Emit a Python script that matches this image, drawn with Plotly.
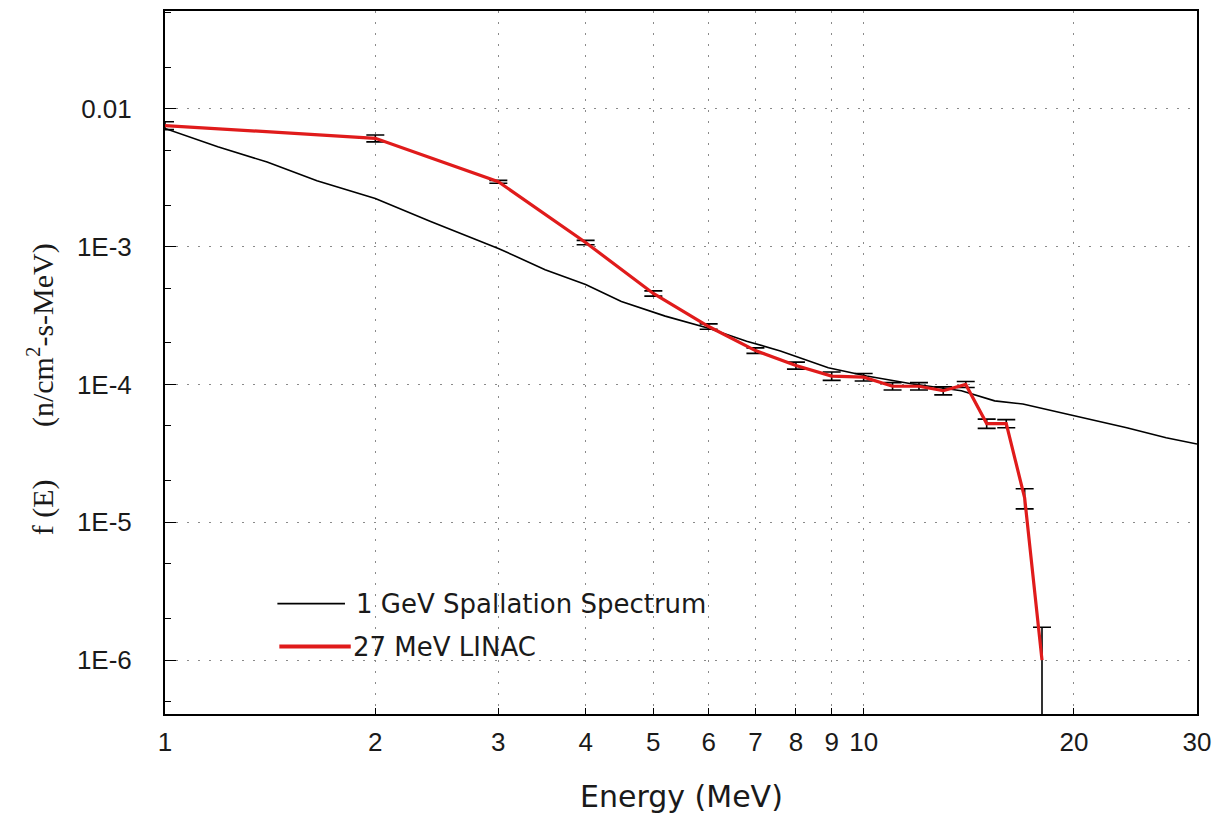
import math
import plotly.graph_objects as go

# ---- data ----
E_spall = [1.0, 1.19, 1.4, 1.65, 2.0, 2.4, 3.0, 3.5, 4.0, 4.5, 5.2, 6.0, 6.8, 7.6,
           8.9, 10.1, 11.7, 13.8, 15.4, 16.9, 19.8, 23.8, 27.1, 30.0]
f_spall = [7.2e-3, 5.3e-3, 4.1e-3, 3.0e-3, 2.23e-3, 1.52e-3, 9.7e-4, 6.8e-4, 5.3e-4,
           4.0e-4, 3.13e-4, 2.56e-4, 2.06e-4, 1.75e-4, 1.32e-4, 1.15e-4, 1.01e-4,
           9.0e-5, 7.6e-5, 7.2e-5, 6.0e-5, 4.85e-5, 4.1e-5, 3.7e-5]

E_linac = [1, 2, 3, 4, 5, 6, 7, 8, 9, 10, 11, 12, 13, 14, 15, 16, 17, 18]
f_linac = [7.55e-3, 6.1e-3, 2.95e-3, 1.07e-3, 4.57e-4, 2.63e-4, 1.76e-4, 1.37e-4,
           1.15e-4, 1.13e-4, 9.7e-5, 9.7e-5, 9.0e-5, 1.0e-4, 5.2e-5, 5.2e-5,
           1.5e-5, 1.0e-6]
err_linac = [5e-4, 3.5e-4, 7e-5, 4e-5, 2e-5, 1.2e-5, 8e-6, 8e-6, 8e-6, 7e-6, 6e-6,
             6e-6, 6e-6, 5e-6, 4e-6, 3.5e-6, 2.5e-6, 7.3e-7]

x_tickvals = [1, 2, 3, 4, 5, 6, 7, 8, 9, 10, 20, 30]
x_ticktext = ["1", "2", "3", "4", "5", "6", "7", "8", "9", "10", "20", "30"]
y_tickvals = [1e-2, 1e-3, 1e-4, 1e-5, 1e-6]
y_ticktext = ["0.01", "1E-3", "1E-4", "1E-5", "1E-6"]

legend_names = ["1 GeV Spallation Spectrum", "27 MeV LINAC"]
RED = "#e01b1b"

fig = go.Figure()
fig.add_trace(go.Scatter(x=E_spall, y=f_spall, mode="lines",
                         line=dict(color="black", width=1.6),
                         name=legend_names[0], showlegend=False))
fig.add_trace(go.Scatter(x=E_linac, y=f_linac, mode="lines",
                         line=dict(color=RED, width=3.2),
                         error_y=dict(type="data", array=err_linac, symmetric=True,
                                      color="black", thickness=1.6, width=9),
                         name=legend_names[1], showlegend=False))

font_sans = "Liberation Sans, Arial, sans-serif"
font_wide = "DejaVu Sans, Verdana, sans-serif"

fig.update_layout(
    width=1220, height=819,
    margin=dict(l=165, r=16, t=9, b=105),
    paper_bgcolor="white", plot_bgcolor="white",
    font=dict(family=font_sans, size=26, color="#1a1a1a"),
    xaxis=dict(type="log", range=[0, math.log10(30) + 1e-5], tickvals=x_tickvals,
               ticktext=x_ticktext,
               ticks="inside", ticklen=6, tickwidth=1.2, tickcolor="black",
               showline=True, linecolor="black", linewidth=2, mirror=True,
               showgrid=True, gridcolor="#8a8a8a", gridwidth=1.4, griddash="2px,9px",
               zeroline=False, ticklabelstandoff=4,
               tickfont=dict(family=font_sans, size=26, color="#1a1a1a")),
    yaxis=dict(type="log", range=[-6.391, -1.291], tickvals=y_tickvals, ticktext=y_ticktext,
               ticks="inside", ticklen=11, tickwidth=1.4, tickcolor="black",
               minor=dict(ticks="inside", ticklen=6, tickcolor="black", tickwidth=1.2,
                          showgrid=False),
               showline=True, linecolor="black", linewidth=2, mirror=True,
               showgrid=True, gridcolor="#8a8a8a", gridwidth=1.4, griddash="2px,9px",
               zeroline=False, ticklabelstandoff=26,
               tickfont=dict(family=font_sans, size=26, color="#1a1a1a")),
    showlegend=False,
)

# axis titles
fig.add_annotation(text="Energy (MeV)", xref="paper", yref="paper", x=0.5, y=-0.118,
                   xanchor="center", yanchor="middle", showarrow=False,
                   font=dict(family=font_wide, size=30, color="#1a1a1a"))
fig.add_annotation(text="f (E)       (n/cm<sup>2</sup>-s-MeV)", xref="paper", yref="paper",
                   x=-0.121, y=0.462, xanchor="center", yanchor="middle", textangle=-90,
                   showarrow=False,
                   font=dict(family="Liberation Serif, Times New Roman, serif", size=30,
                             color="#1a1a1a"))

# legend drawn inside the plot area
leg = [(legend_names[0], "black", 1.6, 0.1089, 0.1744, 0.157, 0.183),
       (legend_names[1], RED, 4, 0.1108, 0.180, 0.096, 0.180)]
for name, col, w, x0, x1, yy, xt in leg:
    fig.add_shape(type="line", xref="paper", yref="paper", x0=x0, x1=x1, y0=yy, y1=yy,
                  line=dict(color=col, width=w))
    fig.add_annotation(text=name, xref="paper", yref="paper", x=xt, y=yy,
                       xanchor="left", yanchor="middle", showarrow=False,
                       font=dict(family=font_wide, size=26, color="#1a1a1a"))

fig.write_html("out.html")
